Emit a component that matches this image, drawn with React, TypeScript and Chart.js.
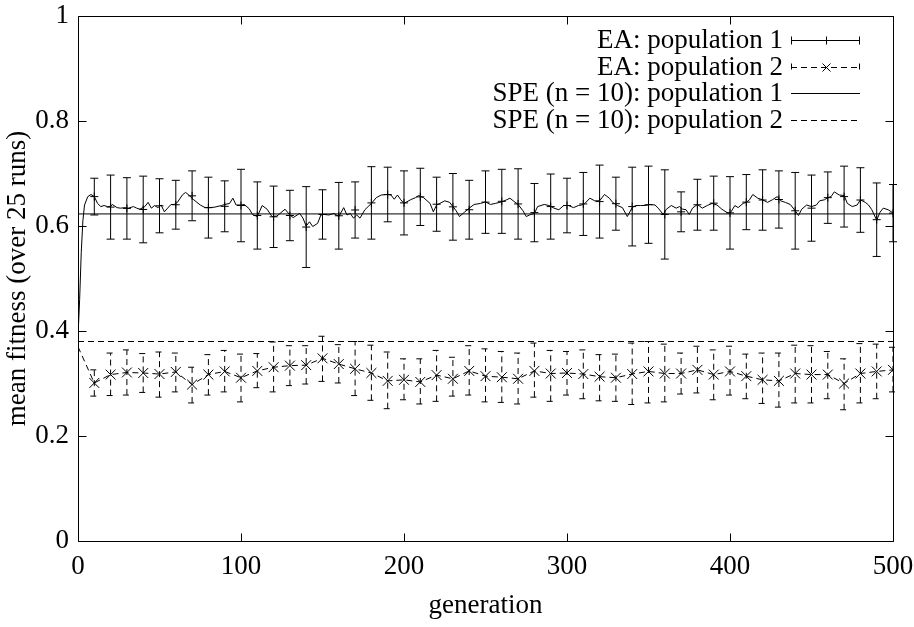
import React, { useEffect, useRef } from "react";
import { Chart, registerables } from "chart.js";

Chart.register(...registerables);

const FONT = "'Liberation Serif', 'Times New Roman', serif";
const FS = 27;

// ---- data ----
const barGen = [10, 20, 30, 40, 50, 60, 70, 80, 90, 100, 110, 120, 130, 140, 150, 160, 170, 180, 190, 200, 210, 220, 230, 240, 250, 260, 270, 280, 290, 300, 310, 320, 330, 340, 350, 360, 370, 380, 390, 400, 410, 420, 430, 440, 450, 460, 470, 480, 490, 500];

const pop1High = [0.691, 0.697, 0.692, 0.695, 0.690, 0.687, 0.705, 0.693, 0.686, 0.708, 0.684, 0.676, 0.668, 0.675, 0.669, 0.683, 0.684, 0.713, 0.712, 0.705, 0.710, 0.693, 0.700, 0.687, 0.705, 0.708, 0.709, 0.681, 0.699, 0.691, 0.702, 0.716, 0.693, 0.712, 0.714, 0.707, 0.665, 0.689, 0.695, 0.694, 0.698, 0.707, 0.705, 0.702, 0.697, 0.703, 0.714, 0.711, 0.682, 0.679];
const pop1Low = [0.621, 0.575, 0.575, 0.568, 0.587, 0.594, 0.610, 0.577, 0.589, 0.570, 0.556, 0.559, 0.572, 0.521, 0.575, 0.556, 0.577, 0.575, 0.608, 0.583, 0.601, 0.590, 0.573, 0.575, 0.586, 0.586, 0.575, 0.570, 0.575, 0.587, 0.582, 0.577, 0.592, 0.562, 0.567, 0.537, 0.589, 0.592, 0.592, 0.556, 0.593, 0.592, 0.596, 0.556, 0.571, 0.605, 0.598, 0.588, 0.542, 0.570];

const pop1LineGen = [0, 1, 2, 3, 4, 6, 8, 10, 12, 14, 16, 18, 20, 21, 24, 26, 29, 31, 34, 36, 38, 41, 43, 45, 47, 49, 51, 53, 55, 57, 59, 61, 64, 66, 68, 71, 75, 78, 81, 84, 88, 90, 93, 95, 97, 100, 102, 105, 107, 110, 113, 116, 119, 122, 124, 127, 130, 132, 136, 138, 140, 142, 144, 147, 149, 151, 154, 157, 160, 163, 165, 167, 169, 171, 173, 176, 178, 180, 183, 186, 190, 192, 194, 196, 198, 200, 204, 207, 209, 212, 216, 218, 220, 222, 225, 228, 230, 232, 234, 237, 240, 243, 247, 250, 253, 256, 260, 263, 265, 267, 270, 273, 275, 277, 280, 282, 286, 289, 292, 295, 298, 301, 304, 307, 309, 311, 314, 317, 320, 323, 326, 328, 331, 334, 337, 340, 342, 345, 348, 351, 354, 356, 359, 361, 364, 367, 369, 371, 373, 375, 377, 380, 383, 386, 389, 392, 395, 398, 400, 403, 405, 408, 410, 412, 414, 417, 420, 423, 426, 429, 431, 434, 437, 440, 442, 444, 447, 450, 453, 455, 458, 460, 462, 464, 467, 470, 472, 475, 478, 480, 483, 485, 487, 490, 492, 494, 497, 500];
const pop1LineVal = [0.39, 0.46, 0.55, 0.61, 0.64, 0.656, 0.660, 0.656, 0.643, 0.637, 0.639, 0.637, 0.637, 0.641, 0.635, 0.634, 0.635, 0.634, 0.637, 0.634, 0.632, 0.637, 0.645, 0.634, 0.639, 0.635, 0.640, 0.627, 0.634, 0.641, 0.641, 0.645, 0.659, 0.664, 0.659, 0.650, 0.640, 0.635, 0.635, 0.636, 0.639, 0.641, 0.643, 0.653, 0.640, 0.640, 0.641, 0.633, 0.622, 0.618, 0.639, 0.632, 0.618, 0.619, 0.624, 0.632, 0.621, 0.616, 0.624, 0.615, 0.600, 0.608, 0.599, 0.605, 0.621, 0.622, 0.621, 0.624, 0.618, 0.635, 0.621, 0.624, 0.615, 0.621, 0.615, 0.631, 0.637, 0.643, 0.654, 0.659, 0.660, 0.659, 0.651, 0.659, 0.650, 0.643, 0.650, 0.654, 0.658, 0.654, 0.643, 0.627, 0.640, 0.643, 0.648, 0.645, 0.637, 0.629, 0.618, 0.626, 0.634, 0.641, 0.643, 0.646, 0.641, 0.643, 0.646, 0.650, 0.653, 0.648, 0.641, 0.629, 0.618, 0.621, 0.624, 0.637, 0.641, 0.639, 0.634, 0.631, 0.639, 0.639, 0.635, 0.639, 0.640, 0.643, 0.653, 0.648, 0.648, 0.660, 0.653, 0.645, 0.639, 0.635, 0.618, 0.635, 0.639, 0.639, 0.639, 0.641, 0.640, 0.634, 0.622, 0.632, 0.639, 0.634, 0.637, 0.632, 0.631, 0.622, 0.634, 0.641, 0.634, 0.639, 0.643, 0.640, 0.632, 0.626, 0.624, 0.639, 0.635, 0.643, 0.645, 0.650, 0.660, 0.653, 0.650, 0.645, 0.650, 0.656, 0.648, 0.645, 0.641, 0.629, 0.620, 0.632, 0.640, 0.637, 0.640, 0.648, 0.650, 0.654, 0.656, 0.665, 0.659, 0.658, 0.643, 0.637, 0.640, 0.650, 0.645, 0.640, 0.631, 0.611, 0.626, 0.634, 0.631, 0.625];

const pop2Gen = [0, 10, 20, 30, 40, 50, 60, 70, 80, 90, 100, 110, 120, 130, 140, 150, 160, 170, 180, 190, 200, 210, 220, 230, 240, 250, 260, 270, 280, 290, 300, 310, 320, 330, 340, 350, 360, 370, 380, 390, 400, 410, 420, 430, 440, 450, 460, 470, 480, 490, 500];
const pop2Mean = [0.37, 0.301, 0.317, 0.321, 0.320, 0.318, 0.322, 0.298, 0.317, 0.323, 0.311, 0.324, 0.331, 0.334, 0.335, 0.348, 0.337, 0.328, 0.320, 0.305, 0.307, 0.303, 0.316, 0.309, 0.324, 0.314, 0.312, 0.309, 0.324, 0.319, 0.320, 0.318, 0.313, 0.311, 0.318, 0.323, 0.319, 0.319, 0.326, 0.317, 0.323, 0.314, 0.307, 0.305, 0.319, 0.317, 0.317, 0.300, 0.319, 0.323, 0.326];
const pop2High = [0.326, 0.358, 0.364, 0.357, 0.360, 0.358, 0.331, 0.355, 0.363, 0.356, 0.357, 0.379, 0.372, 0.372, 0.390, 0.374, 0.380, 0.373, 0.360, 0.347, 0.347, 0.363, 0.350, 0.372, 0.366, 0.361, 0.358, 0.377, 0.363, 0.361, 0.364, 0.355, 0.356, 0.377, 0.380, 0.375, 0.358, 0.371, 0.364, 0.371, 0.356, 0.358, 0.358, 0.373, 0.372, 0.361, 0.347, 0.376, 0.375, 0.369];
const pop2Low = [0.276, 0.277, 0.278, 0.283, 0.274, 0.284, 0.263, 0.278, 0.284, 0.265, 0.292, 0.284, 0.296, 0.299, 0.304, 0.301, 0.277, 0.268, 0.252, 0.269, 0.261, 0.266, 0.276, 0.278, 0.265, 0.264, 0.261, 0.274, 0.266, 0.278, 0.271, 0.267, 0.266, 0.260, 0.263, 0.265, 0.280, 0.282, 0.269, 0.278, 0.271, 0.262, 0.255, 0.263, 0.263, 0.271, 0.250, 0.263, 0.271, 0.284];

const spe1Value = 0.623;
const spe2Value = 0.38;

const xTicks = [0, 100, 200, 300, 400, 500];
const yTicks = [0, 0.2, 0.4, 0.6, 0.8, 1];

const legendLabels = [
  "EA: population 1",
  "EA: population 2",
  "SPE (n = 10): population 1",
  "SPE (n = 10): population 2",
];

const DASH = [6, 4];

const gnuplotPlugin = {
  id: "gnuplotStyle",
  afterDatasetsDraw(chart: any) {
    const ctx = chart.ctx;
    const xs = chart.scales.x;
    const ys = chart.scales.y;
    ctx.save();
    ctx.strokeStyle = "#000";
    ctx.lineWidth = 1;
    const series = [
      { gen: barGen, low: pop1Low, high: pop1High, dash: [] as number[] },
      { gen: barGen, low: pop2Low, high: pop2High, dash: DASH },
    ];
    const cap = 4;
    for (const s of series) {
      ctx.setLineDash(s.dash);
      for (let i = 0; i < s.gen.length; i++) {
        const x = xs.getPixelForValue(s.gen[i]);
        const yl = ys.getPixelForValue(s.low[i]);
        const yh = ys.getPixelForValue(s.high[i]);
        ctx.beginPath();
        ctx.moveTo(x, yl);
        ctx.lineTo(x, yh);
        ctx.moveTo(x - cap, yl);
        ctx.lineTo(x + cap, yl);
        ctx.moveTo(x - cap, yh);
        ctx.lineTo(x + cap, yh);
        ctx.stroke();
      }
    }
    ctx.setLineDash([]);
    ctx.restore();
  },
  afterDraw(chart: any) {
    const ctx = chart.ctx;
    const xs = chart.scales.x;
    const ys = chart.scales.y;
    const ca = chart.chartArea;
    ctx.save();
    ctx.strokeStyle = "#000";
    ctx.lineWidth = 1;
    const L = Math.round(ca.left) + 0.5;
    const R = Math.round(ca.right) + 0.5;
    const T = Math.round(ca.top) + 0.5;
    const B = Math.round(ca.bottom) + 0.5;
    ctx.beginPath();
    ctx.rect(L, T, R - L, B - T);
    ctx.stroke();
    const tl = 8;
    ctx.beginPath();
    for (const v of xTicks) {
      const x = Math.round(xs.getPixelForValue(v)) + 0.5;
      ctx.moveTo(x, B);
      ctx.lineTo(x, B - tl);
      ctx.moveTo(x, T);
      ctx.lineTo(x, T + tl);
    }
    for (const v of yTicks) {
      const y = Math.round(ys.getPixelForValue(v)) + 0.5;
      ctx.moveTo(L, y);
      ctx.lineTo(L + tl, y);
      ctx.moveTo(R, y);
      ctx.lineTo(R - tl, y);
    }
    ctx.stroke();

    // legend
    const rowsY = [40, 67, 93, 120];
    const textRight = 783;
    const sx1 = 791;
    const sx2 = 860;
    ctx.font = `${FS}px ${FONT}`;
    ctx.fillStyle = "#000";
    ctx.textAlign = "right";
    ctx.textBaseline = "middle";
    legendLabels.forEach((lab, i) => {
      const y = rowsY[i] + 0.5;
      ctx.fillText(lab, textRight, rowsY[i] + 1);
      ctx.setLineDash(i === 1 || i === 3 ? DASH : []);
      ctx.beginPath();
      ctx.moveTo(sx1, y);
      ctx.lineTo(sx2, y);
      if (i < 2) {
        ctx.moveTo(sx1 + 0.5, y - 4);
        ctx.lineTo(sx1 + 0.5, y + 4);
        ctx.moveTo(sx2 - 0.5, y - 4);
        ctx.lineTo(sx2 - 0.5, y + 4);
      }
      ctx.stroke();
      ctx.setLineDash([]);
      const mx = Math.round((sx1 + sx2) / 2) + 0.5;
      ctx.beginPath();
      if (i === 0) {
        ctx.moveTo(mx - 4, y);
        ctx.lineTo(mx + 4, y);
        ctx.moveTo(mx, y - 4);
        ctx.lineTo(mx, y + 4);
      } else if (i === 1) {
        ctx.moveTo(mx - 4, y - 4);
        ctx.lineTo(mx + 4, y + 4);
        ctx.moveTo(mx - 4, y + 4);
        ctx.lineTo(mx + 4, y - 4);
      }
      ctx.stroke();
    });
    ctx.restore();
  },
};

export default function App() {
  const canvasRef = useRef<HTMLCanvasElement | null>(null);

  useEffect(() => {
    const canvas = canvasRef.current;
    if (!canvas) return;
    const pop1Line = pop1LineGen.map((g, i) => ({ x: g, y: pop1LineVal[i] }));
    const pop1Marks = barGen.map((g, i) => ({ x: g, y: (pop1Low[i] + pop1High[i]) / 2 }));
    const pop2Line = pop2Gen.map((g, i) => ({ x: g, y: pop2Mean[i] }));
    const chart = new Chart(canvas, {
      type: "line",
      data: {
        datasets: [
          {
            label: legendLabels[0],
            data: pop1Line,
            borderColor: "#000",
            borderWidth: 1,
            pointRadius: 0,
            tension: 0,
            fill: false,
          },
          {
            label: "pop1 marks",
            data: pop1Marks,
            showLine: false,
            pointStyle: "cross",
            pointRadius: 4,
            pointBorderWidth: 1,
            pointBorderColor: "#000",
            pointBackgroundColor: "#000",
          },
          {
            label: legendLabels[1],
            data: pop2Line,
            borderColor: "#000",
            borderWidth: 1,
            borderDash: DASH,
            pointStyle: "crossRot",
            pointRadius: (c: any) => (c.dataIndex === 0 ? 0 : 7),
            pointBorderWidth: 1,
            pointBorderColor: "#000",
            pointBackgroundColor: "#000",
            tension: 0,
            fill: false,
          },
          {
            label: legendLabels[2],
            data: [
              { x: 0, y: spe1Value },
              { x: 500, y: spe1Value },
            ],
            borderColor: "#000",
            borderWidth: 1,
            pointRadius: 0,
          },
          {
            label: legendLabels[3],
            data: [
              { x: 0, y: spe2Value },
              { x: 500, y: spe2Value },
            ],
            borderColor: "#000",
            borderWidth: 1,
            borderDash: DASH,
            pointRadius: 0,
          },
        ],
      },
      options: {
        animation: false,
        responsive: false,
        devicePixelRatio: 1,
        layout: { padding: { left: 0, top: 16, right: 21, bottom: 0 } },
        plugins: {
          legend: { display: false },
          tooltip: { enabled: false },
        },
        scales: {
          x: {
            type: "linear",
            min: 0,
            max: 500,
            afterFit: (s: any) => {
              s.height = 86;
              s.paddingLeft = 0;
              s.paddingRight = 0;
            },
            afterBuildTicks: (s: any) => {
              s.ticks = xTicks.map((v) => ({ value: v }));
            },
            grid: { display: false, drawTicks: false },
            border: { display: false },
            ticks: {
              color: "#000",
              font: { family: FONT, size: FS },
              padding: 10,
              maxRotation: 0,
              autoSkip: false,
            },
            title: {
              display: true,
              text: "generation",
              color: "#000",
              font: { family: FONT, size: FS },
              padding: { top: 0, bottom: 5 },
            },
          },
          y: {
            type: "linear",
            min: 0,
            max: 1,
            afterFit: (s: any) => {
              s.width = 78;
              s.paddingTop = 0;
              s.paddingBottom = 0;
            },
            afterBuildTicks: (s: any) => {
              s.ticks = yTicks.map((v) => ({ value: v }));
            },
            grid: { display: false, drawTicks: false },
            border: { display: false },
            ticks: {
              color: "#000",
              font: { family: FONT, size: FS },
              padding: 9,
              callback: (v: any) => String(Math.round(Number(v) * 10) / 10),
            },
            title: {
              display: true,
              text: "mean fitness (over 25 runs)",
              color: "#000",
              font: { family: FONT, size: FS },
              padding: { top: 2, bottom: 0 },
            },
          },
        },
      },
      plugins: [gnuplotPlugin],
    } as any);
    return () => chart.destroy();
  }, []);

  return (
    <div style={{ position: "fixed", left: 0, top: 0, width: 914, height: 627, background: "#fff" }}>
      <canvas ref={canvasRef} width={914} height={627} style={{ display: "block" }} />
    </div>
  );
}
